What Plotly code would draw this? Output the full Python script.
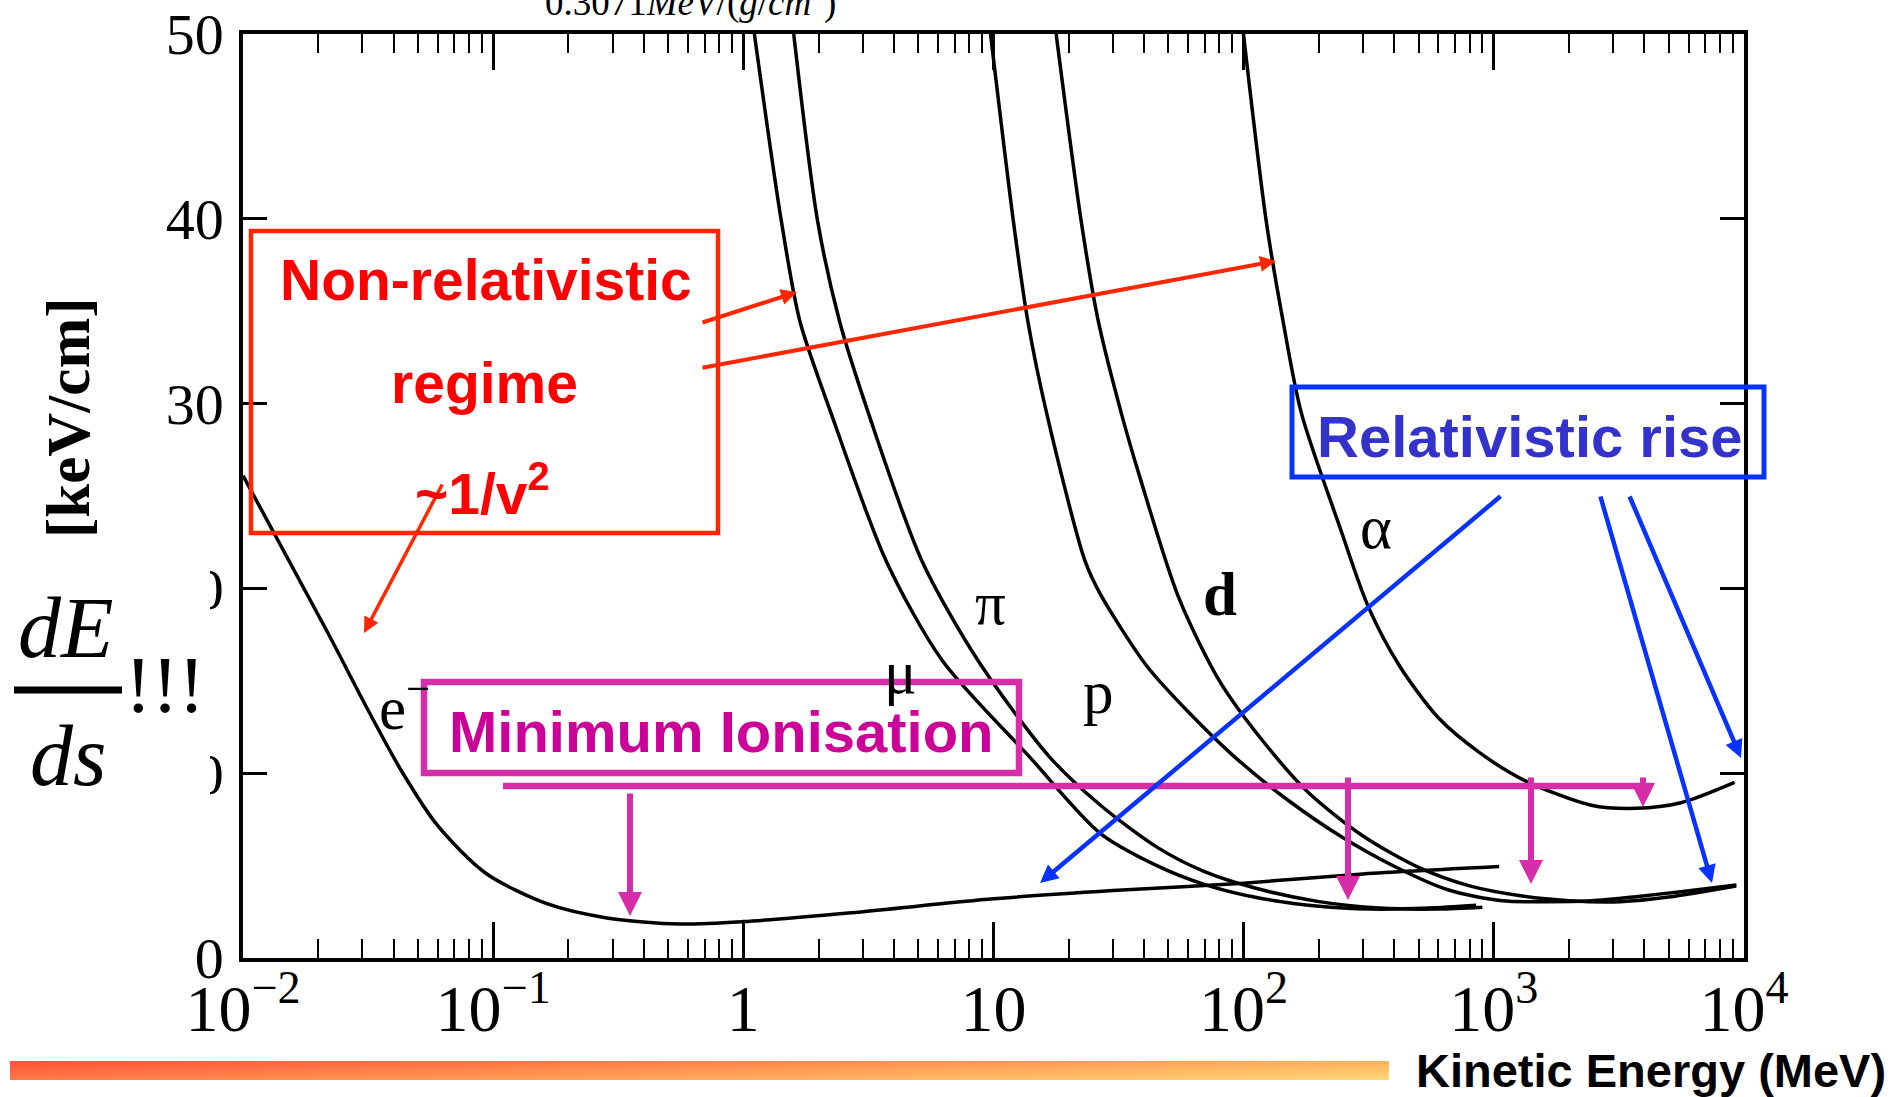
import base64
import plotly.graph_objects as go

# ---------------- data ----------------
e_energy = [0.01, 0.02183, 0.03054, 0.04267, 0.0597, 0.0931, 0.1629, 0.2844, 0.556, 1.0, 2.7, 10, 30, 100, 300, 1050]
e_dedx   = [26.1, 17.6, 13.8, 10.2, 7.2, 4.6, 2.95, 2.17, 1.84, 1.97, 2.45, 3.2, 3.65, 4.05, 4.55, 4.95]

mu_energy = [1.107, 1.418, 1.68, 2.24, 3.72, 6.24, 13.9, 26.7, 45, 69, 110, 200, 320, 550, 850]
mu_dedx   = [50, 39.9, 34.5, 29.5, 21.5, 16.1, 10.9, 6.75, 5.0, 4.0, 3.3, 2.8, 2.65, 2.7, 2.85]

pi_energy = [1.59, 1.98, 2.42, 3.16, 5.17, 8.67, 16.7, 26.7, 45, 69, 110, 200, 350, 600, 900]
pi_dedx   = [50, 39.9, 34.5, 29.5, 21.5, 16.1, 10.9, 8.28, 6.0, 4.7, 3.8, 3.05, 2.7, 2.65, 2.75]

p_energy = [9.73, 12.0, 13.7, 16.3, 23.2, 26.7, 41, 60.8, 91.7, 150, 246, 403, 659, 1080, 1627, 2453, 3700, 5580, 9330]
p_dedx   = [50, 39.9, 34.5, 29.5, 21.5, 19.7, 15.8, 13.24, 10.9, 8.55, 6.56, 4.94, 3.68, 3.10, 3.05, 3.10, 3.32, 3.59, 3.95]

d_energy = [17.8, 22.4, 26.2, 32.4, 38.7, 55, 80, 120, 180, 300, 500, 800, 1300, 2000, 3200, 5000, 9300]
d_dedx   = [50, 39.9, 34.5, 29.5, 25.9, 19.5, 15.0, 11.7, 9.0, 6.6, 4.9, 3.9, 3.35, 3.1, 3.05, 3.3, 3.9]

a_energy = [99.8, 123, 143.5, 170, 244, 315, 420, 600, 880, 1330, 2450, 3700, 5600, 9170]
a_dedx   = [50, 39.9, 34.5, 29.5, 23.2, 19.0, 15.8, 13.0, 11.1, 9.6, 8.27, 8.1, 8.4, 9.5]

x_tick_vals = [0.01, 0.1, 1, 10, 100, 1000, 10000]
x_tick_text = ["10<sup>−2</sup>", "10<sup>−1</sup>", "1", "10", "10<sup>2</sup>", "10<sup>3</sup>", "10<sup>4</sup>"]
y_tick_vals = [0, 10, 20, 30, 40, 50]
curve_labels = ["e<sup>−</sup>", "μ", "π", "p", "<b>d</b>", "α"]

# ---------------- geometry helpers ----------------
W, H = 1901, 1097
L, R, T, B = 243, 1744, 34, 958


def px(x):
    return (x - L) / (R - L)


def py(y):
    return (B - y) / (B - T)


SERIF = "Liberation Serif, Times New Roman, serif"
SANS = "Liberation Sans, Arial, sans-serif"

fig = go.Figure()
for E, D in [(e_energy, e_dedx), (mu_energy, mu_dedx), (pi_energy, pi_dedx),
             (p_energy, p_dedx), (d_energy, d_dedx), (a_energy, a_dedx)]:
    fig.add_trace(go.Scatter(x=E, y=D, mode="lines",
                             line=dict(color="black", width=3.5, shape="spline", smoothing=0.8),
                             hoverinfo="skip", showlegend=False))

minor_vals = [k * 10 ** n for n in range(-2, 4) for k in range(2, 10)]
fig.update_xaxes(type="log", range=[-2, 4], showline=True, linecolor="black", linewidth=3.5,
                 mirror="ticks", ticks="inside", ticklen=36, tickwidth=2.5, tickcolor="black",
                 tickvals=x_tick_vals, ticktext=x_tick_text, automargin=False,
                 tickfont=dict(family=SERIF, size=66, color="black"),
                 showgrid=False, zeroline=False, ticklabelstandoff=-10,
                 minor=dict(ticks="inside", ticklen=19, tickwidth=2.2, tickcolor="black",
                            tickvals=minor_vals, showgrid=False))
fig.update_yaxes(range=[0, 50], tickvals=y_tick_vals, showline=True, linecolor="black", linewidth=3.5,
                 mirror="ticks", ticks="inside", ticklen=24, tickwidth=2.5, tickcolor="black",
                 tickfont=dict(family=SERIF, size=58, color="black"), automargin=False,
                 showgrid=False, zeroline=False, ticklabelstandoff=4)

shapes = []
ann = []

# white patch behind dE/ds (covers parts of y tick labels)
shapes.append(dict(type="rect", xref="paper", yref="paper", x0=px(0), x1=px(210), y0=py(805), y1=py(555),
                   fillcolor="white", line=dict(width=0), layer="above"))
# fraction bar
shapes.append(dict(type="line", xref="paper", yref="paper", x0=px(14), x1=px(122), y0=py(690), y1=py(690),
                   line=dict(color="black", width=7), layer="above"))

# boxes
RED_LINE = "rgb(255,38,0)"
MAG_LINE = "rgb(214,46,168)"
BLUE_LINE = "rgb(8,50,255)"
shapes.append(dict(type="rect", xref="paper", yref="paper", x0=px(251), x1=px(718), y0=py(533), y1=py(231),
                   line=dict(color=RED_LINE, width=4.5), layer="above"))
shapes.append(dict(type="rect", xref="paper", yref="paper", x0=px(424), x1=px(1019), y0=py(773), y1=py(682),
                   line=dict(color=MAG_LINE, width=6.5), layer="above"))
shapes.append(dict(type="rect", xref="paper", yref="paper", x0=px(1292), x1=px(1764), y0=py(477), y1=py(387),
                   line=dict(color=BLUE_LINE, width=5), layer="above"))
# magenta horizontal line
shapes.append(dict(type="line", xref="paper", yref="paper", x0=px(503), x1=px(1652), y0=py(786), y1=py(786),
                   line=dict(color=MAG_LINE, width=6.5), layer="above"))


def arrow(x0, y0, x1, y1, color, width, head, size):
    ann.append(dict(xref="paper", yref="paper", x=px(x1), y=py(y1), ax=x0 - x1, ay=y0 - y1,
                    axref="pixel", ayref="pixel", text="", showarrow=True, arrowhead=head,
                    arrowsize=size, arrowwidth=width, arrowcolor=color, standoff=0, startstandoff=0))


# red arrows
arrow(701, 323, 797, 292, RED_LINE, 4, 2, 0.8)
arrow(701, 368, 1276, 261, RED_LINE, 4, 2, 0.8)
arrow(443, 483, 364, 633, RED_LINE, 3.5, 2, 0.9)
# magenta arrows
arrow(630, 792, 630, 916, MAG_LINE, 6, 2, 0.8)
arrow(1348, 776, 1348, 900, MAG_LINE, 6, 2, 0.8)
arrow(1531, 776, 1531, 884, MAG_LINE, 6, 2, 0.8)
arrow(1643, 776, 1643, 807, MAG_LINE, 6, 2, 0.8)
# blue arrows
arrow(1502, 495, 1040, 883, BLUE_LINE, 4.5, 2, 0.8)
arrow(1600, 495, 1712, 883, BLUE_LINE, 4.5, 2, 0.8)
arrow(1629, 495, 1741, 758, BLUE_LINE, 4.5, 2, 0.8)


def text(x, y, s, size, color="black", family=SANS, angle=0):
    ann.append(dict(xref="paper", yref="paper", x=px(x), y=py(y), text=s, showarrow=False,
                    xanchor="center", yanchor="middle", textangle=angle, borderpad=0,
                    font=dict(family=family, size=size, color=color)))


# box texts
text(486, 280, "<b>Non-relativistic</b>", 57, "rgb(255,0,0)")
text(484, 383, "<b>regime</b>", 57, "rgb(255,0,0)")
text(482, 490, "<b>~1/v<sup>2</sup></b>", 57, "rgb(255,0,0)")
text(721, 731, "<b>Minimum Ionisation</b>", 58, "rgb(204,0,153)")
text(1530, 436, "<b>Relativistic rise</b>", 58, "rgb(51,51,204)")

# curve labels
lab_pos = [(404, 703), (900, 673), (990, 603), (1098, 692), (1220, 594), (1376, 527)]
for s, (x, y) in zip(curve_labels, lab_pos):
    text(x, y, s, 61, "black", SERIF)

# axis-ish texts
text(68, 418, "<b>[keV/cm]</b>", 61, "black", SERIF, -90)
text(66, 628, "<i>dE</i>", 86, "black", SERIF)
text(68, 756, "<i>ds</i>", 86, "black", SERIF)
text(165, 685, "!!!", 80, "black", SERIF)
text(690, 0, "0.3071<i>MeV</i>/(<i>g</i>/<i>cm</i><sup>2</sup>)", 37, "black", SERIF)
text(1651, 1070, "<b>Kinetic Energy (MeV)</b>", 47, "black", SANS)

# gradient bar (SVG gradient image)
svg = ("<svg xmlns='http://www.w3.org/2000/svg' width='1379' height='19' preserveAspectRatio='none' viewBox='0 0 1379 19'>"
       "<defs><linearGradient id='g' gradientUnits='objectBoundingBox' x1='0' y1='0' x2='1.2' y2='0.52'>"
       "<stop offset='0' stop-color='#ff503a'/><stop offset='0.5' stop-color='#ff9652'/>"
       "<stop offset='1' stop-color='#ffd874'/></linearGradient></defs>"
       "<rect x='0' y='0' width='1379' height='19' fill='url(#g)'/></svg>")
uri = "data:image/svg+xml;base64," + base64.b64encode(svg.encode()).decode()
images = [dict(source=uri, xref="paper", yref="paper", x=px(10), y=py(1061),
               sizex=(1389 - 10) / (R - L), sizey=(1080 - 1061) / (B - T),
               xanchor="left", yanchor="top", sizing="stretch", layer="above")]

fig.update_layout(width=W, height=H, margin=dict(l=L, r=W - R, t=T, b=H - B, pad=0, autoexpand=False),
                  paper_bgcolor="white", plot_bgcolor="white", showlegend=False,
                  shapes=shapes, annotations=ann, images=images)

fig.write_html("out.html", config={"displayModeBar": False},
               post_script="document.body.style.margin='0';")
